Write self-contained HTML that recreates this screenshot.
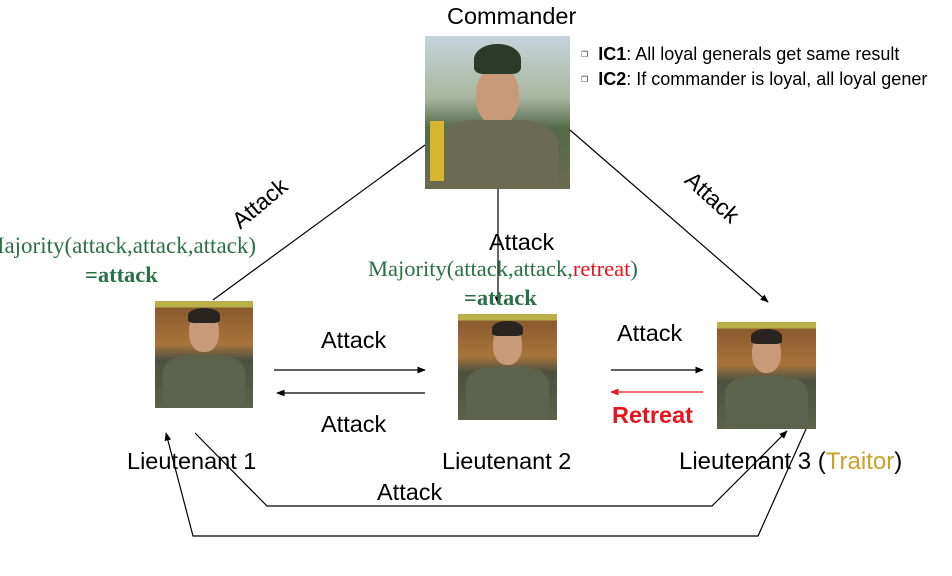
<!DOCTYPE html>
<html><head><meta charset="utf-8"><style>
body{margin:0;width:952px;height:576px;background:#fff;position:relative;overflow:hidden;font-family:"Liberation Sans",sans-serif}
.t{position:absolute;white-space:nowrap;color:#000}
.s{font-family:"Liberation Serif",serif;color:#2a7046}
.ph{position:absolute;overflow:hidden;background:linear-gradient(180deg,#b9b04a 0,#b9b04a 6%,#8a5a2e 6%,#a8743c 40%,#4d5040 55%,#5a6248 100%)}
.ph .h{position:absolute;left:35%;top:10%;width:30%;height:38%;background:#c99a78;border-radius:45%}
.ph .hr{position:absolute;left:34%;top:7%;width:32%;height:14%;background:#2a2420;border-radius:50% 50% 20% 20%}
.ph .b{position:absolute;left:8%;top:50%;width:84%;height:55%;background:#5c624c;border-radius:30% 30% 0 0}
</style></head><body>
<div class="t" style="left:447px;top:3px;font-size:23.5px">Commander</div>
<div class="ph" style="left:425px;top:36px;width:145px;height:153px;background:linear-gradient(180deg,#c6d4dc 0,#a9b7a0 40%,#556a4a 60%,#6b6a52 100%)"><div class="h" style="top:20%"></div><div class="hr" style="background:#2d3a2a;top:5%;height:20%"></div><div class="b" style="top:55%;background:#6b6b54"></div><div style="position:absolute;left:5px;top:85px;width:14px;height:60px;background:#d8b530"></div></div>
<div class="t" style="left:581px;top:42px;font-size:18px;line-height:25px">
<span style="font-size:8px;color:#333;vertical-align:3px">&#10064;</span>&nbsp; <b>IC1</b>: All loyal generals get same result<br>
<span style="font-size:8px;color:#333;vertical-align:3px">&#10064;</span>&nbsp; <b>IC2</b>: If commander is loyal, all loyal gener</div>

<div class="ph" style="left:155px;top:301px;width:98px;height:107px"><div class="h"></div><div class="hr"></div><div class="b"></div></div>
<div class="ph" style="left:458px;top:314px;width:99px;height:106px"><div class="h"></div><div class="hr"></div><div class="b"></div></div>
<div class="ph" style="left:717px;top:322px;width:99px;height:107px"><div class="h"></div><div class="hr"></div><div class="b"></div></div>

<svg width="952" height="576" style="position:absolute;left:0;top:0">
<defs><marker id="a" viewBox="0 0 10 10" refX="9" refY="5" markerWidth="7" markerHeight="7" orient="auto"><path d="M0,1L10,5L0,9z" fill="#000"/></marker>
<marker id="r" viewBox="0 0 10 10" refX="9" refY="5" markerWidth="7" markerHeight="7" orient="auto"><path d="M0,1L10,5L0,9z" fill="#e8141c"/></marker></defs>
<g stroke="#000" stroke-width="1.2" fill="none">
<line x1="425" y1="145" x2="213" y2="300"/>
<line x1="498" y1="189" x2="498" y2="304" marker-end="url(#a)"/>
<line x1="570" y1="130" x2="768" y2="302" marker-end="url(#a)"/>
<line x1="274" y1="370" x2="425" y2="370" marker-end="url(#a)"/>
<line x1="425" y1="393" x2="277" y2="393" marker-end="url(#a)"/>
<line x1="611" y1="370" x2="703" y2="370" marker-end="url(#a)"/>
<polyline points="195,433 267,506 712,506 787,431" marker-end="url(#a)"/>
<polyline points="806,429 758,536 193,536 166,433" marker-end="url(#a)"/>
</g>
<line x1="703" y1="392" x2="611" y2="392" stroke="#e8141c" stroke-width="1.2" marker-end="url(#r)"/>
</svg>

<div class="t" style="left:228px;top:190px;font-size:23px;transform:rotate(-40deg)">Attack</div>
<div class="t" style="left:680px;top:184px;font-size:23px;transform:rotate(42deg)">Attack</div>
<div class="t s" style="left:-16px;top:233px;font-size:23px">Majority(attack,attack,attack)</div>
<div class="t s" style="left:85px;top:262px;font-size:22.5px;font-weight:bold">=attack</div>
<div class="t" style="left:489px;top:229px;font-size:23.5px">Attack</div>
<div class="t s" style="left:368px;top:256px;font-size:22.5px">Majority(attack,attack,<span style="color:#e8141c">retreat</span>)</div>
<div class="t s" style="left:464px;top:285px;font-size:22.5px;font-weight:bold">=attack</div>
<div class="t" style="left:321px;top:327px;font-size:23.5px">Attack</div>
<div class="t" style="left:321px;top:411px;font-size:23.5px">Attack</div>
<div class="t" style="left:617px;top:320px;font-size:23.5px">Attack</div>
<div class="t" style="left:612px;top:402px;font-size:23.5px;color:#e8141c;font-weight:bold">Retreat</div>
<div class="t" style="left:127px;top:448px;font-size:23.5px">Lieutenant 1</div>
<div class="t" style="left:442px;top:448px;font-size:23.5px">Lieutenant 2</div>
<div class="t" style="left:679px;top:448px;font-size:24px">Lieutenant 3 (<span style="color:#c9a227">Traitor</span>)</div>
<div class="t" style="left:377px;top:479px;font-size:23.5px">Attack</div>
</body></html>
